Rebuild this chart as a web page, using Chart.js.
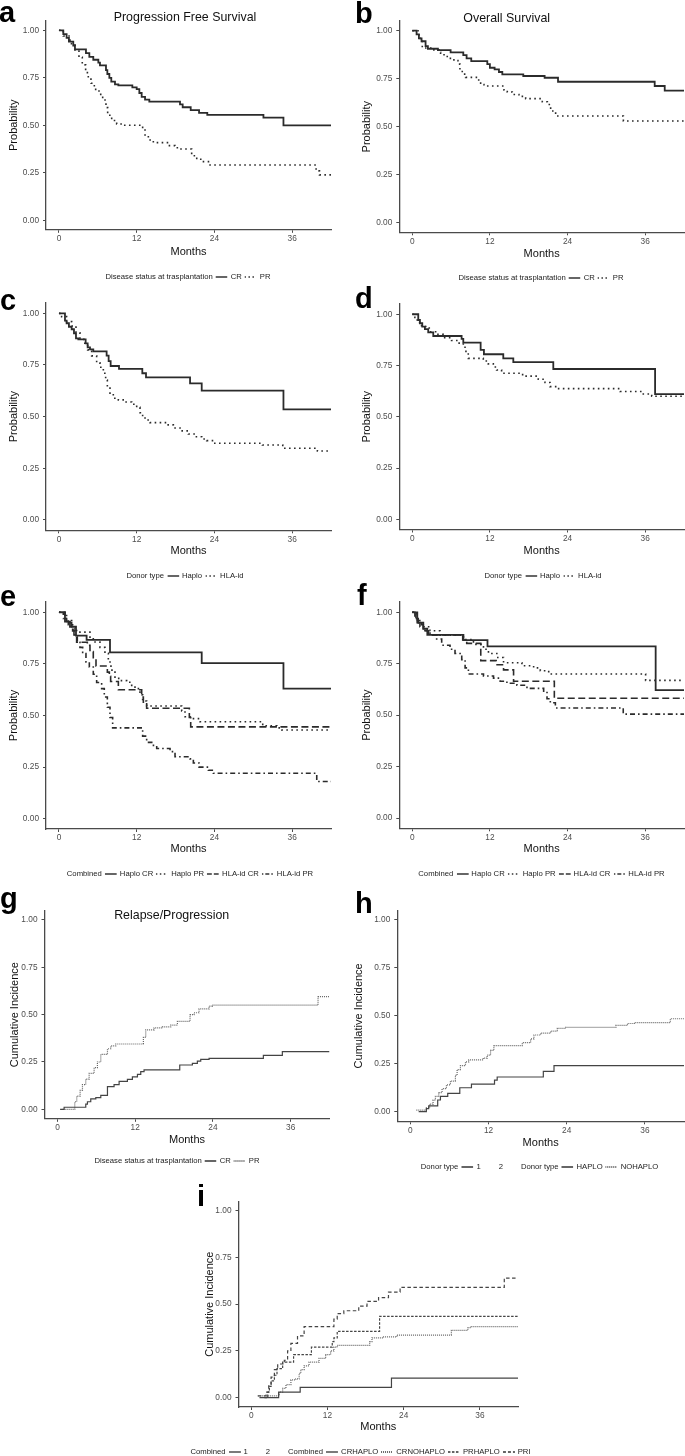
<!DOCTYPE html>
<html>
<head>
<meta charset="utf-8">
<script src="https://cdn.jsdelivr.net/npm/chart.js@4.4.1/dist/chart.umd.min.js"></script>
<style>
  body { margin: 0; background: #fff; }
  #page { position: relative; width: 685px; height: 1456px; overflow: hidden; font-family: 'Liberation Sans', Arial, sans-serif; }
  #page canvas { position: absolute; }
  .txt { position: absolute; white-space: nowrap; color: #000; }
  .letter { font-weight: bold; font-size: 29px; line-height: 28px; }
  .ptitle { font-size: 12.4px; line-height: 14px; transform: translateX(-50%); color: #111; }
  .legend { font-size: 7.7px; height: 10px; line-height: 10px; transform: translateX(-50%); display: flex; align-items: center; color: #222; filter: grayscale(1); }
  .legend span, .legend svg { margin-left: 3px; }
  .legend span:first-child { margin-left: 0; }
</style>
</head>
<body>
<div id="page"></div>
<script>
  // ticks shared by every panel
  const xTicks = [0, 12, 24, 36];
  const yTicks = [0, 0.25, 0.5, 0.75, 1];

  // a - Progression free survival by disease status
  const aCrMonths = [0, 0.67, 1.18, 1.54, 2.21, 2.47, 4.17, 4.69, 5.30, 6.08, 6.33, 7.26, 7.47, 7.78, 8.08, 8.65, 9.17, 11.33, 12.0, 12.41, 12.77, 13.29, 13.95, 18.69, 19.1, 20.34, 21.63, 22.9, 31.57, 34.66, 42];
  const aCrProb   = [1, 0.98, 0.96, 0.94, 0.92, 0.90, 0.88, 0.86, 0.845, 0.83, 0.815, 0.79, 0.77, 0.75, 0.73, 0.715, 0.71, 0.70, 0.69, 0.67, 0.65, 0.635, 0.625, 0.61, 0.595, 0.58, 0.565, 0.555, 0.54, 0.50, 0.50];
  const aPrMonths = [0, 0.67, 1.70, 2.47, 3.09, 3.60, 4.12, 4.53, 4.94, 5.46, 6.18, 6.75, 7.26, 7.52, 8.14, 8.91, 9.94, 12.92, 13.29, 13.80, 14.57, 16.89, 17.92, 18.69, 20.49, 21.27, 22.04, 23.33, 39.7, 40.22, 42];
  const aPrProb   = [1, 0.97, 0.93, 0.896, 0.858, 0.818, 0.777, 0.749, 0.721, 0.689, 0.663, 0.633, 0.593, 0.553, 0.525, 0.507, 0.50, 0.475, 0.449, 0.423, 0.409, 0.393, 0.382, 0.375, 0.34, 0.321, 0.309, 0.291, 0.26, 0.239, 0.239];

  // b - Overall survival by disease status
  const bCrMonths = [0, 0.67, 1.03, 1.44, 2.06, 2.42, 3.97, 5.93, 7.89, 8.40, 9.12, 11.6, 12.0, 12.73, 13.4, 13.92, 17.16, 20.46, 22.53, 37.47, 39.02, 42];
  const bCrProb   = [1, 0.981, 0.96, 0.945, 0.92, 0.906, 0.899, 0.887, 0.873, 0.856, 0.842, 0.826, 0.807, 0.799, 0.785, 0.773, 0.764, 0.755, 0.734, 0.712, 0.688, 0.688];
  const bPrMonths = [0, 1.03, 1.55, 3.09, 4.12, 4.38, 5.41, 6.44, 7.06, 7.37, 7.73, 8.25, 10.05, 10.57, 11.08, 14.18, 14.69, 15.46, 16.49, 17.53, 20.1, 20.88, 21.39, 22.16, 32.63, 42];
  const bPrProb   = [1, 0.96, 0.91, 0.90, 0.887, 0.875, 0.856, 0.844, 0.826, 0.795, 0.774, 0.757, 0.743, 0.72, 0.712, 0.691, 0.681, 0.668, 0.658, 0.646, 0.63, 0.616, 0.582, 0.556, 0.53, 0.53];

  // c - PFS by donor type
  const cHaploMonths = [0, 0.93, 1.18, 1.54, 1.96, 2.32, 2.63, 2.99, 4.12, 4.43, 4.79, 5.30, 7.36, 7.67, 7.98, 9.27, 12.87, 13.44, 20.24, 22.04, 34.66, 42];
  const cHaploProb   = [1, 0.965, 0.952, 0.935, 0.923, 0.903, 0.879, 0.874, 0.855, 0.835, 0.826, 0.816, 0.795, 0.769, 0.745, 0.731, 0.71, 0.69, 0.661, 0.626, 0.535, 0.535];
  const cHlaMonths = [0, 0.41, 1.18, 1.96, 2.63, 3.24, 3.86, 4.43, 5.05, 5.82, 6.33, 6.85, 7.21, 7.47, 7.88, 8.39, 9.17, 10.2, 11.23, 12.0, 12.51, 12.92, 13.29, 14.06, 16.63, 17.66, 18.69, 19.98, 21.01, 22.04, 22.81, 23.84, 31.41, 34.55, 39.9, 42];
  const cHlaProb   = [1, 0.984, 0.96, 0.939, 0.906, 0.874, 0.855, 0.823, 0.794, 0.761, 0.739, 0.71, 0.677, 0.645, 0.61, 0.589, 0.581, 0.571, 0.56, 0.545, 0.519, 0.50, 0.484, 0.471, 0.46, 0.445, 0.431, 0.416, 0.403, 0.392, 0.384, 0.371, 0.363, 0.347, 0.334, 0.334];

  // d - OS by donor type
  const dHaploMonths = [0, 0.93, 1.19, 1.55, 1.96, 2.47, 3.25, 7.63, 7.89, 10.57, 11.08, 14.07, 15.62, 21.8, 37.53, 42];
  const dHaploProb   = [1, 0.972, 0.956, 0.94, 0.927, 0.912, 0.894, 0.88, 0.862, 0.826, 0.805, 0.785, 0.766, 0.733, 0.61, 0.61];
  const dHlaMonths = [0, 0.41, 0.77, 1.44, 2.63, 3.76, 4.79, 6.08, 7.11, 7.89, 8.3, 8.66, 10.98, 11.75, 12.53, 13.04, 13.81, 17.06, 19.48, 20.52, 21.29, 22.32, 32.11, 35.46, 37.01, 42];
  const dHlaProb   = [1, 0.984, 0.959, 0.94, 0.915, 0.902, 0.886, 0.872, 0.859, 0.839, 0.81, 0.785, 0.772, 0.758, 0.743, 0.728, 0.712, 0.698, 0.683, 0.667, 0.647, 0.637, 0.623, 0.611, 0.60, 0.60];

  // e - PFS by combined group
  const eHaploCrMonths = [0, 0.93, 1.70, 2.63, 4.27, 7.88, 22.04, 34.66, 42];
  const eHaploCrProb   = [1, 0.955, 0.93, 0.887, 0.866, 0.806, 0.754, 0.63, 0.63];
  const eHaploPrMonths = [0, 1.18, 1.96, 2.73, 4.79, 5.30, 6.33, 7.10, 7.62, 8.03, 8.65, 9.42, 10.45, 11.23, 11.74, 12.51, 12.92, 13.54, 18.95, 19.46, 20.24, 21.78, 31.46, 33.63, 34.4, 42];
  const eHaploPrProb   = [1, 0.96, 0.93, 0.904, 0.88, 0.856, 0.83, 0.801, 0.759, 0.72, 0.68, 0.669, 0.661, 0.646, 0.63, 0.60, 0.57, 0.546, 0.522, 0.494, 0.485, 0.47, 0.45, 0.44, 0.43, 0.43];
  const eHlaCrMonths = [0, 0.67, 1.18, 1.96, 2.32, 2.73, 4.38, 4.79, 5.30, 5.72, 7.47, 7.78, 7.98, 9.17, 12.77, 13.03, 13.54, 20.13, 20.34, 42];
  const eHlaCrProb   = [1, 0.97, 0.95, 0.92, 0.89, 0.855, 0.84, 0.81, 0.78, 0.74, 0.71, 0.69, 0.665, 0.625, 0.59, 0.565, 0.535, 0.49, 0.445, 0.445];
  const eHlaPrMonths = [0, 0.93, 1.44, 2.11, 2.47, 2.83, 3.24, 3.66, 4.17, 4.69, 5.30, 5.82, 6.59, 7.0, 7.47, 7.88, 8.29, 12.92, 13.54, 14.32, 15.09, 17.15, 17.92, 20.24, 20.75, 21.63, 23.07, 23.84, 39.8, 42];
  const eHlaPrProb   = [1, 0.97, 0.94, 0.91, 0.88, 0.855, 0.83, 0.80, 0.76, 0.735, 0.70, 0.66, 0.63, 0.59, 0.54, 0.49, 0.44, 0.40, 0.37, 0.355, 0.34, 0.325, 0.30, 0.29, 0.27, 0.25, 0.235, 0.22, 0.18, 0.18];

  // f - OS by combined group
  const fHaploCrMonths = [0, 0.78, 1.71, 2.33, 7.91, 11.63, 37.62, 42];
  const fHaploCrProb   = [1, 0.95, 0.92, 0.89, 0.865, 0.834, 0.622, 0.622];
  const fHaploPrMonths = [0, 0.67, 1.45, 2.74, 4.29, 7.91, 9.46, 11.01, 11.78, 13.07, 14.11, 16.95, 18.76, 19.79, 21.09, 36.07, 42];
  const fHaploPrProb   = [1, 0.96, 0.93, 0.91, 0.889, 0.868, 0.844, 0.82, 0.80, 0.78, 0.755, 0.74, 0.73, 0.716, 0.70, 0.669, 0.669];
  const fHlaCrMonths = [0, 0.41, 0.93, 1.71, 2.48, 7.8, 8.42, 10.59, 12.97, 14.11, 15.66, 21.96, 42];
  const fHlaCrProb   = [1, 0.97, 0.94, 0.91, 0.89, 0.865, 0.849, 0.765, 0.745, 0.72, 0.665, 0.582, 0.582];
  const fHlaPrMonths = [0, 0.57, 1.19, 1.96, 2.74, 3.77, 4.55, 5.84, 6.61, 7.65, 8.17, 8.68, 11.01, 12.56, 13.59, 14.63, 16.18, 17.73, 20.31, 20.83, 21.34, 22.12, 32.61, 42];
  const fHlaPrProb   = [1, 0.96, 0.93, 0.91, 0.89, 0.87, 0.84, 0.82, 0.80, 0.77, 0.73, 0.70, 0.69, 0.68, 0.665, 0.655, 0.645, 0.63, 0.61, 0.58, 0.56, 0.535, 0.505, 0.505];

  // g - relapse / progression cumulative incidence by disease status
  const gCrMonths = [0.41, 1.03, 4.37, 4.63, 5.14, 5.92, 6.69, 7.72, 8.74, 9.52, 10.8, 11.57, 12.35, 12.86, 13.37, 18.88, 20.83, 21.6, 22.12, 23.41, 31.79, 34.72, 42];
  const gCrInc    = [0, 0.011, 0.028, 0.04, 0.055, 0.062, 0.074, 0.12, 0.13, 0.148, 0.158, 0.171, 0.185, 0.199, 0.208, 0.234, 0.243, 0.255, 0.264, 0.269, 0.285, 0.305, 0.305];
  const gPrMonths = [0.8, 2.67, 2.98, 3.5, 3.86, 4.37, 4.89, 5.66, 6.17, 6.69, 7.72, 8.23, 9.0, 13.27, 13.63, 14.92, 16.2, 17.49, 18.52, 20.47, 21.09, 21.86, 23.41, 23.92, 40.23, 42];
  const gPrInc    = [0, 0.04, 0.07, 0.10, 0.13, 0.16, 0.19, 0.22, 0.25, 0.29, 0.32, 0.335, 0.345, 0.38, 0.42, 0.43, 0.435, 0.445, 0.465, 0.50, 0.51, 0.53, 0.545, 0.55, 0.595, 0.595];

  // h - cumulative incidence by donor type
  const hHaploMonths = [1.28, 2.46, 2.82, 4.2, 4.62, 5.74, 7.59, 9.38, 12.92, 13.33, 20.41, 22.05, 42];
  const hHaploInc    = [0, 0.016, 0.03, 0.061, 0.08, 0.096, 0.125, 0.144, 0.165, 0.181, 0.21, 0.24, 0.24];
  const hNoHaploMonths = [0.92, 2.46, 2.97, 3.49, 3.85, 4.36, 4.87, 5.54, 6.15, 6.92, 7.18, 7.69, 8.46, 8.97, 11.18, 11.79, 12.31, 12.82, 17.18, 18.46, 18.97, 20.0, 21.54, 22.56, 23.85, 31.54, 33.33, 34.36, 39.9, 42];
  const hNoHaploInc    = [0.008, 0.02, 0.04, 0.06, 0.08, 0.10, 0.12, 0.14, 0.16, 0.19, 0.22, 0.24, 0.26, 0.27, 0.28, 0.295, 0.32, 0.345, 0.36, 0.38, 0.40, 0.41, 0.42, 0.435, 0.44, 0.45, 0.46, 0.465, 0.485, 0.485];

  // i - cumulative incidence by combined group
  const iCrHaploMonths = [1.3, 4.32, 7.71, 22.08, 42];
  const iCrHaploInc    = [0, 0.03, 0.055, 0.105, 0.105];
  const iCrNoHaploMonths = [1.04, 4.43, 4.95, 5.47, 6.25, 7.03, 7.55, 7.81, 8.33, 9.11, 10.68, 11.72, 12.5, 13.02, 13.54, 18.65, 19.01, 20.83, 22.92, 31.51, 34.11, 34.64, 42];
  const iCrNoHaploInc    = [0.01, 0.03, 0.05, 0.07, 0.095, 0.10, 0.13, 0.15, 0.17, 0.19, 0.21, 0.23, 0.25, 0.27, 0.28, 0.30, 0.32, 0.325, 0.335, 0.36, 0.375, 0.38, 0.38];
  const iPrHaploMonths = [2.08, 2.6, 2.86, 3.13, 3.65, 4.06, 4.95, 6.67, 9.48, 12.76, 13.02, 13.54, 20.21, 42];
  const iPrHaploInc    = [0, 0.03, 0.06, 0.09, 0.12, 0.155, 0.19, 0.23, 0.27, 0.30, 0.32, 0.355, 0.435, 0.435];
  const iPrIMonths = [1.04, 2.34, 2.76, 3.13, 3.65, 4.17, 5.21, 5.73, 6.25, 7.29, 8.33, 13.02, 13.54, 14.58, 16.93, 18.23, 20.05, 21.61, 23.44, 39.84, 42];
  const iPrIInc    = [0.01, 0.03, 0.07, 0.11, 0.15, 0.18, 0.20, 0.25, 0.29, 0.33, 0.38, 0.42, 0.45, 0.465, 0.49, 0.515, 0.535, 0.565, 0.59, 0.64, 0.64];

  Chart.defaults.font.family = "'Liberation Sans', Arial, sans-serif";

  // line looks, roughly the ggplot linetypes
  const lineStyles = {
    solid:   { borderColor: '#2b2b2b', borderWidth: 1.8, borderDash: [] },
    dotted:  { borderColor: '#2b2b2b', borderWidth: 1.6, borderDash: [1.6, 3.4] },
    dashed:  { borderColor: '#2b2b2b', borderWidth: 1.6, borderDash: [7, 3.5] },
    dotdash: { borderColor: '#2b2b2b', borderWidth: 1.6, borderDash: [1.6, 3, 5, 3] },
    thin:    { borderColor: '#444', borderWidth: 1.2, borderDash: [] },
    fine:    { borderColor: '#666', borderWidth: 1.2, borderDash: [1, 1] },
    dash2:   { borderColor: '#444', borderWidth: 1.2, borderDash: [2.5, 1.5] },
    dash3:   { borderColor: '#444', borderWidth: 1.2, borderDash: [3.5, 2.5] }
  };

  // panel geometry: plot area edges and title positions, in page pixels
  const panels = [
    { L: 46, R: 331, T: 20.8, B: 229.8, yTitleX: 14.3, monthsY: 251.7, yLabel: 'Probability',
      series: [[aCrMonths, aCrProb, 'solid'], [aPrMonths, aPrProb, 'dotted']] },
    { L: 399.3, R: 684, T: 21.1, B: 232.3, yTitleX: 367, monthsY: 254, yLabel: 'Probability',
      series: [[bCrMonths, bCrProb, 'solid'], [bPrMonths, bPrProb, 'dotted']] },
    { L: 46, R: 331, T: 303, B: 530.3, yTitleX: 14.3, monthsY: 551, yLabel: 'Probability',
      series: [[cHaploMonths, cHaploProb, 'solid'], [cHlaMonths, cHlaProb, 'dotted']] },
    { L: 399.3, R: 684, T: 304, B: 529.5, yTitleX: 367, monthsY: 551, yLabel: 'Probability',
      series: [[dHaploMonths, dHaploProb, 'solid'], [dHlaMonths, dHlaProb, 'dotted']] },
    { L: 46, R: 331, T: 602, B: 829, yTitleX: 14.3, monthsY: 849.3, yLabel: 'Probability',
      series: [[eHaploCrMonths, eHaploCrProb, 'solid'], [eHaploPrMonths, eHaploPrProb, 'dotted'],
               [eHlaCrMonths, eHlaCrProb, 'dashed'], [eHlaPrMonths, eHlaPrProb, 'dotdash']] },
    { L: 399.3, R: 684, T: 602, B: 828.3, yTitleX: 367, monthsY: 849.3, yLabel: 'Probability',
      series: [[fHaploCrMonths, fHaploCrProb, 'solid'], [fHaploPrMonths, fHaploPrProb, 'dotted'],
               [fHlaCrMonths, fHlaCrProb, 'dashed'], [fHlaPrMonths, fHlaPrProb, 'dotdash']] },
    { L: 44.5, R: 329.5, T: 910.5, B: 1118.8, yTitleX: 15, monthsY: 1140, yLabel: 'Cumulative Incidence',
      series: [[gCrMonths, gCrInc, 'thin'], [gPrMonths, gPrInc, 'fine']] },
    { L: 397.3, R: 684, T: 910.4, B: 1121.3, yTitleX: 359.3, monthsY: 1143.3, yLabel: 'Cumulative Incidence',
      series: [[hHaploMonths, hHaploInc, 'thin'], [hNoHaploMonths, hNoHaploInc, 'fine']] },
    { L: 238.5, R: 518, T: 1201.4, B: 1407, yTitleX: 210, monthsY: 1427.3, yLabel: 'Cumulative Incidence',
      series: [[iCrHaploMonths, iCrHaploInc, 'thin'], [iCrNoHaploMonths, iCrNoHaploInc, 'fine'],
               [iPrHaploMonths, iPrHaploInc, 'dash2'], [iPrIMonths, iPrIInc, 'dash3']] }
  ];

  function toPoints(xs, ys) {
    return xs.map((x, i) => ({ x: x, y: ys[i] }));
  }

  const page = document.getElementById('page');
  const axisColor = '#4a4a4a';

  panels.forEach(p => {
    const halfTitle = 6.6; // half of an 11px title line
    const scaleLeft = p.yTitleX - halfTitle;
    const yWidth = p.L - scaleLeft;
    const xHeight = p.monthsY + halfTitle - p.B;
    const cl = Math.floor(scaleLeft - 2);
    const ct = Math.floor(p.T - 14);
    const cr = Math.min(685, Math.ceil(p.R + 4));
    const cb = Math.ceil(p.B + xHeight + 4);

    const canvas = document.createElement('canvas');
    canvas.width = cr - cl;
    canvas.height = cb - ct;
    canvas.style.left = cl + 'px';
    canvas.style.top = ct + 'px';
    canvas.style.width = (cr - cl) + 'px';
    canvas.style.height = (cb - ct) + 'px';
    page.appendChild(canvas);

    new Chart(canvas.getContext('2d'), {
      type: 'line',
      data: {
        datasets: p.series.map(s => Object.assign({
          data: toPoints(s[0], s[1]),
          stepped: 'before',
          pointRadius: 0,
          fill: false,
          borderCapStyle: 'butt'
        }, lineStyles[s[2]]))
      },
      options: {
        responsive: false,
        animation: false,
        devicePixelRatio: 1,
        layout: { padding: { left: scaleLeft - cl, top: p.T - ct, right: cr - p.R, bottom: cb - (p.B + xHeight) } },
        plugins: { legend: { display: false }, tooltip: { enabled: false }, title: { display: false } },
        scales: {
          x: {
            type: 'linear', min: -2, max: 42,
            afterBuildTicks: axis => { axis.ticks = xTicks.map(v => ({ value: v })); },
            afterFit: axis => { axis.height = xHeight; },
            grid: { display: true, drawOnChartArea: false, drawTicks: true, tickLength: 3, color: axisColor },
            border: { display: true, color: axisColor, width: 1.3 },
            ticks: { font: { size: 8.3 }, color: '#4d4d4d', padding: 1, maxRotation: 0, autoSkip: false },
            title: { display: true, text: 'Months', font: { size: 11 }, color: '#111', padding: 0 }
          },
          y: {
            type: 'linear', min: -0.05, max: 1.05,
            afterBuildTicks: axis => { axis.ticks = yTicks.map(v => ({ value: v })); },
            afterFit: axis => { axis.width = yWidth; },
            grid: { display: true, drawOnChartArea: false, drawTicks: true, tickLength: 3, color: axisColor },
            border: { display: true, color: axisColor, width: 1.3 },
            ticks: { font: { size: 8.3 }, color: '#4d4d4d', padding: 4, callback: v => v.toFixed(2) },
            title: { display: true, text: p.yLabel, font: { size: 11 }, color: '#111', padding: 0 }
          }
        }
      }
    });
  });

  // panel letters and titles
  const letters = [
    ['a', -1, -2], ['b', 355, -1], ['c', 0, 285.6], ['d', 355, 284.3], ['e', 0, 582],
    ['f', 357, 581.3], ['g', 0, 884.3], ['h', 355, 889.3], ['i', 197, 1182.3]
  ];
  letters.forEach(([t, x, y]) => {
    const d = document.createElement('div');
    d.className = 'txt letter';
    d.textContent = t;
    d.style.left = x + 'px';
    d.style.top = y + 'px';
    page.appendChild(d);
  });

  const titles = [
    ['Progression Free Survival', 185, 10.4],
    ['Overall Survival', 506.7, 11.1],
    ['Relapse/Progression', 171.7, 908]
  ];
  titles.forEach(([t, x, y]) => {
    const d = document.createElement('div');
    d.className = 'txt ptitle';
    d.textContent = t;
    d.style.left = x + 'px';
    d.style.top = y + 'px';
    page.appendChild(d);
  });

  // legends: '#style' entries are line keys, the rest is text
  const keyDash = { solid: '', dotted: '1.5 2.5', dashed: '5 2', dotdash: '1.5 2 4 2', fine: '1 1', dash2: '2.5 1.5', dash3: '3 2' };
  function keySvg(kind) {
    if (kind === 'none') return '<svg width="12" height="6"></svg>';
    const dash = keyDash[kind] ? ' stroke-dasharray="' + keyDash[kind] + '"' : '';
    return '<svg width="12" height="6"><line x1="0" y1="3" x2="12" y2="3" stroke="#333" stroke-width="1.3"' + dash + '/></svg>';
  }
  const legends = [
    [188, 272.1, ['Disease status at trasplantation', '#solid', 'CR', '#dotted', 'PR']],
    [541, 273.1, ['Disease status at trasplantation', '#solid', 'CR', '#dotted', 'PR']],
    [185, 570.8, ['Donor type', '#solid', 'Haplo', '#dotted', 'HLA-id']],
    [543, 570.8, ['Donor type', '#solid', 'Haplo', '#dotted', 'HLA-id']],
    [190, 869.4, ['Combined', '#solid', 'Haplo CR', '#dotted', 'Haplo PR', '#dashed', 'HLA-id CR', '#dotdash', 'HLA-id PR']],
    [541.5, 869.4, ['Combined', '#solid', 'Haplo CR', '#dotted', 'Haplo PR', '#dashed', 'HLA-id CR', '#dotdash', 'HLA-id PR']],
    [177, 1156.1, ['Disease status at trasplantation', '#solid', 'CR', '#fine', 'PR']],
    [539.5, 1162.4, ['Donor type', '#solid', '1', '#none', '2', '#none', 'Donor type', '#solid', 'HAPLO', '#fine', 'NOHAPLO']],
    [360.5, 1446.8, ['Combined', '#solid', '1', '#none', '2', '#none', 'Combined', '#solid', 'CRHAPLO', '#fine', 'CRNOHAPLO', '#dash2', 'PRHAPLO', '#dash3', 'PRI']]
  ];
  legends.forEach(([x, y, items]) => {
    const d = document.createElement('div');
    d.className = 'txt legend';
    d.style.left = x + 'px';
    d.style.top = y + 'px';
    d.innerHTML = items.map(it => it[0] === '#' ? keySvg(it.slice(1)) : '<span>' + it + '</span>').join('');
    page.appendChild(d);
  });
</script>
</body>
</html>
